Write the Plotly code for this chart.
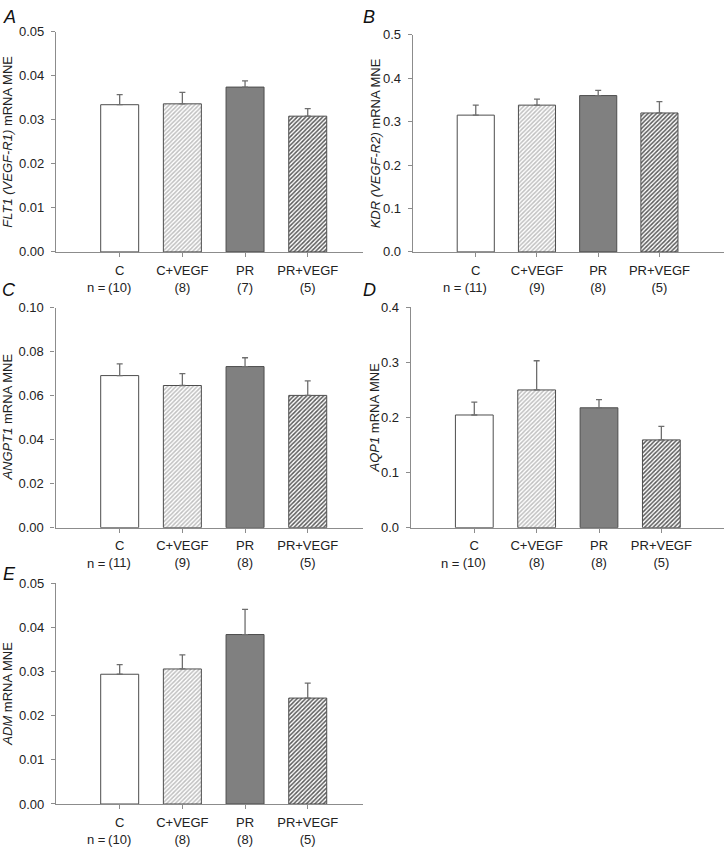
import plotly.graph_objects as go

categories = ["C", "C+VEGF", "PR", "PR+VEGF"]

flt1_mean = [0.0334, 0.0336, 0.0374, 0.0308]
flt1_sem = [0.0023, 0.0026, 0.0014, 0.0017]
flt1_n = [10, 8, 7, 5]

kdr_mean = [0.315, 0.338, 0.360, 0.320]
kdr_sem = [0.023, 0.014, 0.012, 0.026]
kdr_n = [11, 9, 8, 5]

angpt1_mean = [0.0691, 0.0646, 0.0732, 0.0601]
angpt1_sem = [0.0053, 0.0054, 0.0040, 0.0066]
angpt1_n = [11, 9, 8, 5]

aqp1_mean = [0.2045, 0.250, 0.2176, 0.1593]
aqp1_sem = [0.0232, 0.053, 0.0148, 0.0244]
aqp1_n = [10, 8, 8, 5]

adm_mean = [0.0294, 0.0306, 0.0384, 0.0240]
adm_sem = [0.0022, 0.0032, 0.0057, 0.0034]
adm_n = [10, 8, 8, 5]

panels = [
    dict(letter="A", mean=flt1_mean, sem=flt1_sem, n=flt1_n,
         title="<i>FLT1 (VEGF-R1)</i> mRNA MNE", yr=[0, 0.05], dt=0.01, fmt=".2f",
         xd=[56 / 725, 362.7 / 725], yd=[1 - 249.3 / 850, 1 - 25 / 850],
         xr=[-1.016, 3.877], tx=8, lx=9, ly=10),
    dict(letter="B", mean=kdr_mean, sem=kdr_sem, n=kdr_n,
         title="<i>KDR (VEGF-R2)</i> mRNA MNE", yr=[0, 0.5], dt=0.1, fmt=".1f",
         xd=[412.7 / 725, 723.7 / 725], yd=[1 - 249.3 / 850, 1 - 28.3 / 850],
         xr=[-1.03, 4.05], tx=375, lx=369, ly=10),
    dict(letter="C", mean=angpt1_mean, sem=angpt1_sem, n=angpt1_n,
         title="<i>ANGPT1</i> mRNA MNE", yr=[0, 0.10], dt=0.02, fmt=".2f",
         xd=[55.5 / 725, 362.7 / 725], yd=[1 - 530 / 850, 1 - 306 / 850],
         xr=[-1.024, 3.877], tx=8, lx=9, ly=288),
    dict(letter="D", mean=aqp1_mean, sem=aqp1_sem, n=aqp1_n,
         title="<i>AQP1</i> mRNA MNE", yr=[0, 0.4], dt=0.1, fmt=".1f",
         xd=[410.7 / 725, 723.7 / 725], yd=[1 - 530 / 850, 1 - 305.7 / 850],
         xr=[-1.02, 4.0], tx=374, lx=369, ly=288),
    dict(letter="E", mean=adm_mean, sem=adm_sem, n=adm_n,
         title="<i>ADM</i> mRNA MNE", yr=[0, 0.05], dt=0.01, fmt=".2f",
         xd=[56 / 725, 362.7 / 725], yd=[1 - 811.3 / 850, 1 - 586.7 / 850],
         xr=[-1.016, 3.877], tx=8, lx=9, ly=577),
]

FONT = "Liberation Sans, Arial, sans-serif"
fill_colors = ["#ffffff", "#c0c0c0", "#808080", "#5a5a5a"]
pat_shapes = ["", "/", "", "/"]
pat_fg = ["#000000", "#4e4e4e", "#000000", "#222222"]
pat_bg = ["#ffffff", "#f8f8f8", "#808080", "#8a8a8a"]

fig = go.Figure()
layout = dict(
    width=725, height=850,
    margin=dict(l=0, r=0, t=0, b=0),
    plot_bgcolor="white", paper_bgcolor="white",
    showlegend=False,
    font=dict(family=FONT, size=13, color="#222222"),
)
annotations = []
xpos = list(range(len(categories)))

for i, p in enumerate(panels):
    k = "" if i == 0 else str(i + 1)
    xa, ya = "x" + k, "y" + k
    fig.add_trace(go.Bar(
        x=xpos, y=p["mean"], xaxis=xa, yaxis=ya, width=0.606,
        marker=dict(color=fill_colors,
                    line=dict(color="#4d4d4d", width=1),
                    pattern=dict(shape=pat_shapes, fgcolor=pat_fg, bgcolor=pat_bg,
                                 size=3, solidity=0.5, fillmode="replace")),
        error_y=dict(type="data", array=p["sem"], arrayminus=[0] * 4, symmetric=False,
                     color="#6e6e6e", thickness=1.3, width=3),
    ))
    layout["xaxis" + k] = dict(
        domain=p["xd"], anchor=ya, range=p["xr"], tickmode="array", tickvals=xpos,
        ticktext=[f"{c}<br>({n})" for c, n in zip(categories, p["n"])],
        showline=True, linecolor="#8c8c8c", linewidth=1.2, ticks="outside",
        ticklen=4, tickcolor="#8c8c8c", showgrid=False, zeroline=False,
        tickfont=dict(size=13, family=FONT, color="#222222"),
        ticklabelstandoff=2, fixedrange=True,
    )
    layout["yaxis" + k] = dict(
        domain=p["yd"], anchor=xa, range=p["yr"], dtick=p["dt"], tick0=0,
        tickformat=p["fmt"], showline=True, linecolor="#8c8c8c", linewidth=1.2,
        ticks="outside", ticklen=4, tickcolor="#8c8c8c", showgrid=False,
        zeroline=False, tickfont=dict(size=13, family=FONT, color="#222222"),
        ticklabelstandoff=4, fixedrange=True,
    )
    # "n =" prefix
    annotations.append(dict(
        x=0, y=0, xref=xa, yref=ya, text="n =", showarrow=False,
        xanchor="right", yanchor="middle", xshift=-13, yshift=-36,
        font=dict(size=13, family=FONT, color="#222222"),
    ))
    # y-axis title
    annotations.append(dict(
        x=p["tx"] / 725, y=(p["yd"][0] + p["yd"][1]) / 2, xref="paper", yref="paper",
        text=p["title"], textangle=-90, showarrow=False, xanchor="center",
        yanchor="middle", font=dict(size=13, family=FONT, color="#222222"),
    ))
    # panel letter
    annotations.append(dict(
        x=p["lx"] / 725, y=1 - p["ly"] / 850, xref="paper", yref="paper",
        text=f"<i>{p['letter']}</i>", showarrow=False, xanchor="center",
        yanchor="middle", font=dict(size=18, family=FONT, color="#111111"),
    ))

layout["annotations"] = annotations
fig.update_layout(**layout)
fig.write_html(
    "out.html",
    config={"displayModeBar": False, "responsive": False},
    post_script=(
        "document.documentElement.style.margin='0';"
        "document.documentElement.style.overflow='hidden';"
        "document.body.style.margin='0';document.body.style.padding='0';"
        "document.body.style.overflow='hidden';"
        "var d=document.getElementById('{plot_id}');"
        "d.style.position='absolute';d.style.top='0px';d.style.left='0px';"
    ),
)
